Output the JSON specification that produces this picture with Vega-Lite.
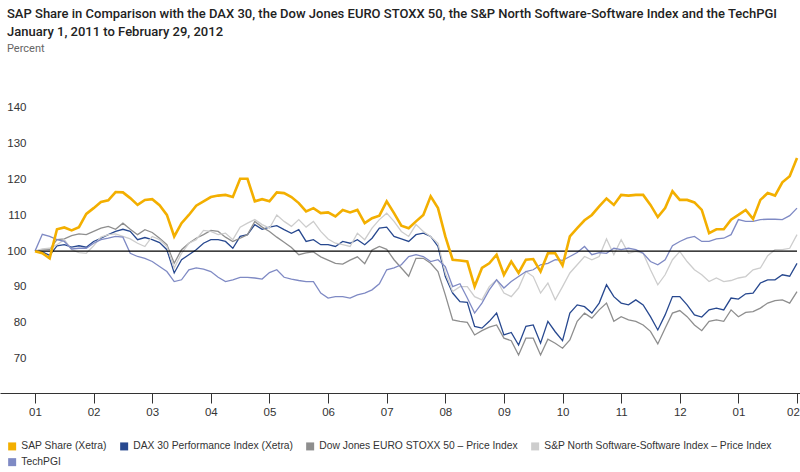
{
  "$schema": "https://vega.github.io/schema/vega-lite/v6.json",
  "width": 800,
  "height": 321,
  "autosize": {"type": "none"},
  "padding": {"left": 0, "top": 72, "right": 0, "bottom": 79},
  "background": "white",
  "config": {"view": {"stroke": null}, "font": "Liberation Sans"},
  "title": {
    "text": ["SAP Share in Comparison with the DAX 30, the Dow Jones EURO STOXX 50, the S&P North Software-Software Index and the TechPGI", "January 1, 2011 to February 29, 2012"],
    "subtitle": "Percent",
    "anchor": "start",
    "frame": "group",
    "dx": 7,
    "offset": 18,
    "font": "Roboto",
    "fontWeight": 500,
    "fontSize": 13,
    "lineHeight": 18.5,
    "color": "#222222",
    "subtitleFont": "Roboto",
    "subtitleFontSize": 11,
    "subtitleColor": "#666666",
    "subtitlePadding": 4
  },
  "datasets": {
    "names": [
      {"key": "SAP", "name": "SAP Share (Xetra)"},
      {"key": "DAX", "name": "DAX 30 Performance Index (Xetra)"},
      {"key": "STOXX", "name": "Dow Jones EURO STOXX 50 – Price Index"},
      {"key": "SPNS", "name": "S&P North Software-Software Index – Price Index"},
      {"key": "TECH", "name": "TechPGI"}
    ]
  },
  "data": {"values": [
    {"m":0,"SAP":100,"DAX":100,"STOXX":100,"SPNS":100,"TECH":100},
    {"m":0.125,"SAP":99.4,"DAX":99.8,"STOXX":100.4,"SPNS":100.6,"TECH":104.7},
    {"m":0.25,"SAP":98,"DAX":98.8,"STOXX":100.5,"SPNS":100.8,"TECH":104.1},
    {"m":0.375,"SAP":106.1,"DAX":101.5,"STOXX":103.2,"SPNS":101.8,"TECH":103.2},
    {"m":0.5,"SAP":106.6,"DAX":101.8,"STOXX":103.4,"SPNS":103.2,"TECH":102.7},
    {"m":0.625,"SAP":105.8,"DAX":101.1,"STOXX":104.3,"SPNS":100.4,"TECH":100.6},
    {"m":0.75,"SAP":106.7,"DAX":101.5,"STOXX":104.8,"SPNS":99.6,"TECH":100.8},
    {"m":0.875,"SAP":110.4,"DAX":101.1,"STOXX":104.6,"SPNS":99.4,"TECH":100.8},
    {"m":1,"SAP":112,"DAX":102.7,"STOXX":105.5,"SPNS":101.5,"TECH":102.2},
    {"m":1.125,"SAP":113.7,"DAX":103.6,"STOXX":106.4,"SPNS":103.9,"TECH":103.2},
    {"m":1.25,"SAP":114.2,"DAX":104.6,"STOXX":106.9,"SPNS":104.6,"TECH":103.6},
    {"m":1.375,"SAP":116.5,"DAX":105.5,"STOXX":106.1,"SPNS":104.8,"TECH":104.1},
    {"m":1.5,"SAP":116.4,"DAX":106.1,"STOXX":107.8,"SPNS":104.1,"TECH":103.9},
    {"m":1.625,"SAP":114.8,"DAX":105.5,"STOXX":106.1,"SPNS":103.4,"TECH":99.4},
    {"m":1.75,"SAP":112.9,"DAX":103.2,"STOXX":104.6,"SPNS":102.2,"TECH":98.5},
    {"m":1.875,"SAP":114.3,"DAX":103.8,"STOXX":106,"SPNS":101.3,"TECH":98},
    {"m":2,"SAP":114.5,"DAX":103.2,"STOXX":105.2,"SPNS":104.1,"TECH":97.1},
    {"m":2.125,"SAP":112.8,"DAX":102.4,"STOXX":103.6,"SPNS":103.2,"TECH":95.7},
    {"m":2.25,"SAP":110.1,"DAX":100.4,"STOXX":101.8,"SPNS":101.3,"TECH":94.3},
    {"m":2.375,"SAP":104.1,"DAX":93.9,"STOXX":96.6,"SPNS":95.3,"TECH":91.5},
    {"m":2.5,"SAP":107.8,"DAX":97.6,"STOXX":100.4,"SPNS":99.4,"TECH":92},
    {"m":2.625,"SAP":110.1,"DAX":99,"STOXX":102.2,"SPNS":102.2,"TECH":94.8},
    {"m":2.75,"SAP":112.7,"DAX":100.4,"STOXX":103.6,"SPNS":103.2,"TECH":95.3},
    {"m":2.875,"SAP":113.9,"DAX":102.2,"STOXX":104.6,"SPNS":105.8,"TECH":95},
    {"m":3,"SAP":115.1,"DAX":103.2,"STOXX":105.8,"SPNS":105.5,"TECH":94.3},
    {"m":3.125,"SAP":115.5,"DAX":103.2,"STOXX":105.5,"SPNS":104.6,"TECH":92.7},
    {"m":3.25,"SAP":115.7,"DAX":102.7,"STOXX":103.9,"SPNS":105,"TECH":91.5},
    {"m":3.375,"SAP":115.1,"DAX":100.8,"STOXX":102.7,"SPNS":103.2,"TECH":92},
    {"m":3.5,"SAP":120.2,"DAX":104.1,"STOXX":103.6,"SPNS":106.7,"TECH":92.7},
    {"m":3.625,"SAP":120.2,"DAX":104.6,"STOXX":104.6,"SPNS":107.8,"TECH":92.7},
    {"m":3.75,"SAP":113.9,"DAX":107.4,"STOXX":108.3,"SPNS":108.8,"TECH":92.5},
    {"m":3.875,"SAP":114.5,"DAX":106.1,"STOXX":106.7,"SPNS":107.4,"TECH":92.2},
    {"m":4,"SAP":113.9,"DAX":106.7,"STOXX":105.5,"SPNS":106.4,"TECH":94},
    {"m":4.125,"SAP":116.4,"DAX":107.1,"STOXX":103.9,"SPNS":110.1,"TECH":94.8},
    {"m":4.25,"SAP":116.2,"DAX":106,"STOXX":102.5,"SPNS":108.3,"TECH":92.7},
    {"m":4.375,"SAP":115.1,"DAX":105,"STOXX":101,"SPNS":106.9,"TECH":92.2},
    {"m":4.5,"SAP":113.4,"DAX":106,"STOXX":99,"SPNS":108.8,"TECH":91.8},
    {"m":4.625,"SAP":111.1,"DAX":102.7,"STOXX":99.5,"SPNS":106.7,"TECH":91.5},
    {"m":4.75,"SAP":112,"DAX":103.2,"STOXX":99.8,"SPNS":108.3,"TECH":91.5},
    {"m":4.875,"SAP":110.6,"DAX":101.8,"STOXX":98.4,"SPNS":105.5,"TECH":88.3},
    {"m":5,"SAP":110.8,"DAX":101.8,"STOXX":97.5,"SPNS":103.4,"TECH":86.9},
    {"m":5.125,"SAP":109.7,"DAX":101.3,"STOXX":96.6,"SPNS":102.2,"TECH":87.3},
    {"m":5.25,"SAP":111.5,"DAX":102.7,"STOXX":96.4,"SPNS":101.8,"TECH":87.3},
    {"m":5.375,"SAP":110.8,"DAX":102.2,"STOXX":97.5,"SPNS":101.3,"TECH":86.9},
    {"m":5.5,"SAP":111.5,"DAX":103.2,"STOXX":98.4,"SPNS":105,"TECH":87.8},
    {"m":5.625,"SAP":107.8,"DAX":101.8,"STOXX":96.5,"SPNS":103.2,"TECH":88.3},
    {"m":5.75,"SAP":109.2,"DAX":103.6,"STOXX":100.3,"SPNS":106.4,"TECH":89.2},
    {"m":5.875,"SAP":109.9,"DAX":106.4,"STOXX":101.3,"SPNS":108.8,"TECH":90.9},
    {"m":6,"SAP":113.9,"DAX":106.7,"STOXX":100.5,"SPNS":110.6,"TECH":94.8},
    {"m":6.125,"SAP":110.6,"DAX":104.1,"STOXX":97.6,"SPNS":108.3,"TECH":95.3},
    {"m":6.25,"SAP":107.1,"DAX":103.4,"STOXX":95.3,"SPNS":105.5,"TECH":96.2},
    {"m":6.375,"SAP":106.4,"DAX":102.7,"STOXX":93,"SPNS":104.1,"TECH":98.5},
    {"m":6.5,"SAP":108.3,"DAX":104.6,"STOXX":98,"SPNS":107.4,"TECH":99},
    {"m":6.625,"SAP":110.1,"DAX":105,"STOXX":98,"SPNS":105.5,"TECH":98.5},
    {"m":6.75,"SAP":115.3,"DAX":104.1,"STOXX":96.6,"SPNS":104.1,"TECH":97.1},
    {"m":6.875,"SAP":112,"DAX":101.3,"STOXX":94.3,"SPNS":102.2,"TECH":97.6},
    {"m":7,"SAP":104.1,"DAX":92.9,"STOXX":87.8,"SPNS":93.9,"TECH":95.7},
    {"m":7.125,"SAP":97.6,"DAX":88.3,"STOXX":80.8,"SPNS":88.7,"TECH":90.1},
    {"m":7.25,"SAP":97.4,"DAX":85.9,"STOXX":80.4,"SPNS":90.1,"TECH":90.9},
    {"m":7.375,"SAP":97.1,"DAX":85.7,"STOXX":80.1,"SPNS":90.1,"TECH":86.9},
    {"m":7.5,"SAP":90.1,"DAX":79,"STOXX":76.6,"SPNS":87.3,"TECH":82.7},
    {"m":7.625,"SAP":95.3,"DAX":78.5,"STOXX":77.8,"SPNS":86.4,"TECH":85.5},
    {"m":7.75,"SAP":96.6,"DAX":80.4,"STOXX":78.8,"SPNS":90.1,"TECH":89.2},
    {"m":7.875,"SAP":99,"DAX":82.7,"STOXX":79.4,"SPNS":92,"TECH":92},
    {"m":8,"SAP":93.4,"DAX":76.6,"STOXX":75.7,"SPNS":88.3,"TECH":89.7},
    {"m":8.125,"SAP":97.1,"DAX":77.3,"STOXX":75,"SPNS":87.3,"TECH":91.5},
    {"m":8.25,"SAP":93.9,"DAX":73.8,"STOXX":71,"SPNS":89.7,"TECH":92.9},
    {"m":8.375,"SAP":97.6,"DAX":79,"STOXX":75.7,"SPNS":94.3,"TECH":94.3},
    {"m":8.5,"SAP":97.8,"DAX":79.4,"STOXX":75.7,"SPNS":92.9,"TECH":94.8},
    {"m":8.625,"SAP":94.3,"DAX":74.3,"STOXX":71,"SPNS":88.3,"TECH":96.2},
    {"m":8.75,"SAP":99.4,"DAX":80.4,"STOXX":75.4,"SPNS":91.1,"TECH":96.6},
    {"m":8.875,"SAP":99.4,"DAX":77.5,"STOXX":74.3,"SPNS":86.4,"TECH":97.6},
    {"m":9,"SAP":96,"DAX":75,"STOXX":72.9,"SPNS":90.1,"TECH":97.4},
    {"m":9.125,"SAP":104.1,"DAX":82.7,"STOXX":75.2,"SPNS":93.9,"TECH":98.5},
    {"m":9.25,"SAP":106.4,"DAX":85,"STOXX":80.4,"SPNS":96.2,"TECH":99.6},
    {"m":9.375,"SAP":108.6,"DAX":84.5,"STOXX":82.7,"SPNS":98.5,"TECH":101.3},
    {"m":9.5,"SAP":110.1,"DAX":82.7,"STOXX":81.3,"SPNS":97.6,"TECH":99},
    {"m":9.625,"SAP":112.5,"DAX":85.5,"STOXX":83.6,"SPNS":98.5,"TECH":99.6},
    {"m":9.75,"SAP":114.7,"DAX":90.6,"STOXX":85.5,"SPNS":103.4,"TECH":99.4},
    {"m":9.875,"SAP":112.9,"DAX":87.3,"STOXX":80.4,"SPNS":99,"TECH":100.8},
    {"m":10,"SAP":115.7,"DAX":85.5,"STOXX":81.7,"SPNS":103.2,"TECH":100.4},
    {"m":10.125,"SAP":115.5,"DAX":85,"STOXX":80.8,"SPNS":99.4,"TECH":100.8},
    {"m":10.25,"SAP":115.7,"DAX":86.4,"STOXX":80.4,"SPNS":99.9,"TECH":100.4},
    {"m":10.375,"SAP":115.7,"DAX":85,"STOXX":79.4,"SPNS":99.4,"TECH":99.4},
    {"m":10.5,"SAP":112.9,"DAX":81.7,"STOXX":77.6,"SPNS":94.8,"TECH":97.1},
    {"m":10.625,"SAP":109.5,"DAX":78,"STOXX":74.1,"SPNS":90.6,"TECH":96.2},
    {"m":10.75,"SAP":112,"DAX":82.2,"STOXX":78.5,"SPNS":93.4,"TECH":97.6},
    {"m":10.875,"SAP":116.7,"DAX":87.3,"STOXX":82.7,"SPNS":97.6,"TECH":101.5},
    {"m":11,"SAP":114.3,"DAX":87.3,"STOXX":83.4,"SPNS":99.9,"TECH":102.7},
    {"m":11.125,"SAP":114.3,"DAX":85,"STOXX":81.7,"SPNS":97.1,"TECH":103.6},
    {"m":11.25,"SAP":113.6,"DAX":82.2,"STOXX":79.4,"SPNS":94.8,"TECH":104.1},
    {"m":11.375,"SAP":111.5,"DAX":81.6,"STOXX":77.8,"SPNS":93.4,"TECH":102.7},
    {"m":11.5,"SAP":105,"DAX":83.6,"STOXX":80.4,"SPNS":91.5,"TECH":102.7},
    {"m":11.625,"SAP":106.1,"DAX":84.1,"STOXX":80.8,"SPNS":92.5,"TECH":103.4},
    {"m":11.75,"SAP":106.1,"DAX":83.6,"STOXX":80.4,"SPNS":91.5,"TECH":103.6},
    {"m":11.875,"SAP":108.8,"DAX":86.9,"STOXX":83.6,"SPNS":91.8,"TECH":104.6},
    {"m":12,"SAP":110.1,"DAX":86.6,"STOXX":81.7,"SPNS":92.5,"TECH":108.8},
    {"m":12.125,"SAP":111.5,"DAX":88.1,"STOXX":82.9,"SPNS":92.9,"TECH":108.3},
    {"m":12.25,"SAP":109,"DAX":88.3,"STOXX":83.1,"SPNS":94.8,"TECH":108.3},
    {"m":12.375,"SAP":114.3,"DAX":91.1,"STOXX":84.1,"SPNS":95.3,"TECH":108.8},
    {"m":12.5,"SAP":116.2,"DAX":92,"STOXX":85.5,"SPNS":98.7,"TECH":108.9},
    {"m":12.625,"SAP":115.5,"DAX":92,"STOXX":86.2,"SPNS":100.4,"TECH":108.9},
    {"m":12.75,"SAP":119.2,"DAX":93.4,"STOXX":86.4,"SPNS":100.4,"TECH":108.8},
    {"m":12.875,"SAP":120.9,"DAX":93,"STOXX":85.5,"SPNS":100.8,"TECH":109.9},
    {"m":13,"SAP":126,"DAX":96.6,"STOXX":88.7,"SPNS":104.6,"TECH":112}
  ]},
  "transform": [
    {"fold": ["SAP", "DAX", "STOXX", "SPNS", "TECH"], "as": ["key", "value"]},
    {"lookup": "key", "from": {"data": {"name": "names"}, "key": "key", "fields": ["name"]}}
  ],
  "layer": [
    {
      "transform": [{"filter": "datum.key !== 'SAP'"}],
      "mark": {"type": "line", "strokeWidth": 1.3},
      "encoding": {
        "x": {
          "field": "m",
          "type": "quantitative",
          "scale": {"domain": [-0.597, 13.051], "nice": false, "zero": false},
          "axis": {
            "title": null,
            "grid": false,
            "values": [0,0.5,1,1.5,2,2.5,3,3.5,4,4.5,5,5.5,6,6.5,7,7.5,8,8.5,9,9.5,10,10.5,11,11.5,12,12.5,13],
            "labelExpr": "datum.value % 1 ? '' : pad(toString(datum.value % 12 + 1), 2, '0', 'left')",
            "tickSize": {"condition": {"test": "datum.value % 1 != 0", "value": 4}, "value": 10},
            "labelOffset": {"condition": {"test": "datum.value == 13", "value": -4}, "value": 0},
            "tickColor": "#333333",
            "domainColor": "#333333",
            "labelFont": "Liberation Sans",
            "labelFontSize": 11.5,
            "labelColor": "#333333",
            "labelPadding": 3,
            "labelFlush": false,
            "labelOverlap": false
          }
        },
        "y": {
          "field": "value",
          "type": "quantitative",
          "scale": {"domain": [60.4, 150], "nice": false, "zero": false},
          "axis": {
            "title": null,
            "grid": false,
            "values": [70, 80, 90, 100, 110, 120, 130, 140],
            "offset": -26,
            "domain": false,
            "ticks": false,
            "tickSize": 0,
            "labelPadding": 0,
            "labelFont": "Liberation Sans",
            "labelFontSize": 11.5,
            "labelColor": "#333333"
          }
        },
        "color": {
          "field": "name",
          "type": "nominal",
          "scale": {
            "domain": ["SAP Share (Xetra)", "DAX 30 Performance Index (Xetra)", "Dow Jones EURO STOXX 50 – Price Index", "S&P North Software-Software Index – Price Index", "TechPGI"],
            "range": ["#F3AF00", "#27488F", "#8E8E8E", "#CDCDCD", "#7F8AC4"]
          },
          "legend": {
            "title": null,
            "orient": "none",
            "legendX": 7,
            "legendY": 369,
            "direction": "horizontal",
            "columns": 4,
            "symbolType": "square",
            "symbolSize": 64,
            "symbolStrokeWidth": 0,
            "labelFont": "Liberation Sans",
            "labelFontSize": 10.3,
            "labelColor": "#333333",
            "labelLimit": 400,
            "labelOffset": 4,
            "columnPadding": 12,
            "rowPadding": 5,
            "padding": 0,
            "encode": {"symbols": {"update": {"fill": {"scale": "color", "field": "value"}, "stroke": {"value": "transparent"}}}}
          }
        }
      }
    },
    {
      "transform": [{"filter": "datum.key === 'SAP' && datum.m === 0"}],
      "mark": {"type": "rule", "strokeWidth": 1.2, "color": "#000000"},
      "encoding": {
        "x": {"datum": 0},
        "x2": {"datum": 13},
        "y": {"datum": 100}
      }
    },
    {
      "transform": [{"filter": "datum.key === 'SAP'"}],
      "mark": {"type": "line", "strokeWidth": 2.6},
      "encoding": {
        "x": {"field": "m", "type": "quantitative"},
        "y": {"field": "value", "type": "quantitative"},
        "color": {"field": "name", "type": "nominal"}
      }
    }
  ]
}
